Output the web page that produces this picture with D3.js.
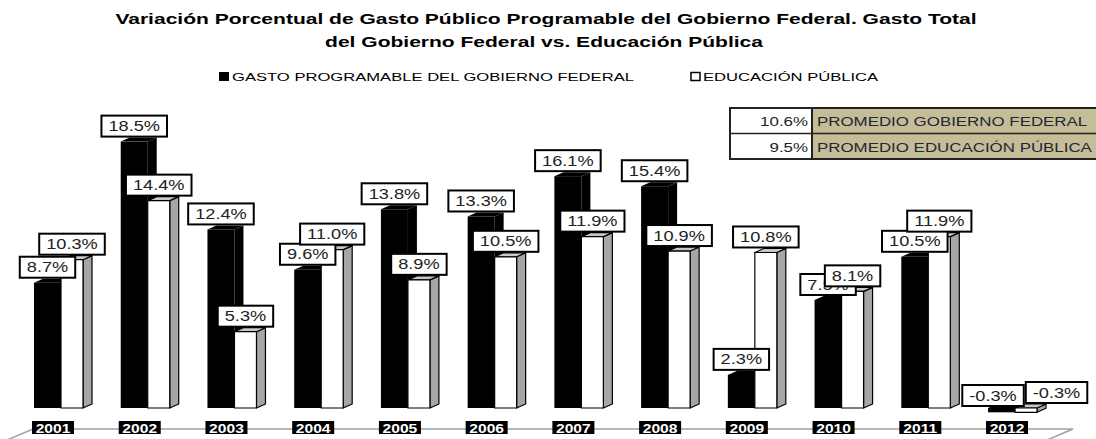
<!DOCTYPE html>
<html lang="en">
<head>
<meta charset="UTF-8">
<title>Gasto Público</title>
<style>
  body { margin: 0; background: #fff; }
  text { font-family: "Liberation Sans", Arial, sans-serif; }
</style>
</head>
<body>
<script src="https://cdn.jsdelivr.net/npm/d3@7"></script>
<script>
  const years = ["2001","2002","2003","2004","2005","2006","2007","2008","2009","2010","2011","2012"];
  const gobierno = [8.7, 18.5, 12.4, 9.6, 13.8, 13.3, 16.1, 15.4, 2.3, 7.5, 10.5, -0.3];
  const educacion = [10.3, 14.4, 5.3, 11.0, 8.9, 10.5, 11.9, 10.9, 10.8, 8.1, 11.9, -0.3];
  const seriesNames = ["GASTO PROGRAMABLE DEL GOBIERNO FEDERAL", "EDUCACIÓN PÚBLICA"];
  const promedios = [["10.6%", "PROMEDIO GOBIERNO FEDERAL"], ["9.5%", "PROMEDIO EDUCACIÓN PÚBLICA"]];
  const titleLines = ["Variación Porcentual de Gasto Público Programable del Gobierno Federal. Gasto Total",
                      "del Gobierno Federal vs. Educación Pública"];

  const width = 1096, height = 439;
  const sx = 1.3;          // horizontal stretch of the text, as in the picture
  const dx = 9, dy = -4;   // 3d depth
  const wB = 27, wW = 22;

  const svg = d3.select("body").append("svg")
    .attr("width", width).attr("height", height);

  const x = d3.scaleBand().domain(years).range([34, 34 + 12 * 86.73]);
  const y = d3.scaleLinear().domain([0, 20]).range([408, 120]);

  // stretched text helper
  function txt(g, s, px, py, opts) {
    const t = g.append("text")
      .attr("transform", `translate(${px},${py}) scale(${opts.sx || sx},1)`)
      .attr("text-anchor", opts.anchor || "middle")
      .attr("font-size", opts.size)
      .attr("font-weight", opts.bold ? "bold" : "normal")
      .attr("fill", opts.fill || "#000")
      .text(s);
    return t;
  }

  // title
  txt(svg, titleLines[0], 546, 24, {size: 14.5, bold: true, sx: 1.45});
  txt(svg, titleLines[1], 544, 47, {size: 14.5, bold: true, sx: 1.45});

  // legend
  svg.append("rect").attr("x", 219).attr("y", 72).attr("width", 10).attr("height", 9).attr("fill", "#000");
  txt(svg, seriesNames[0], 232, 81, {size: 11.5, anchor: "start", sx: 1.445});
  svg.append("rect").attr("x", 691).attr("y", 72.5).attr("width", 9).attr("height", 8)
    .attr("fill", "#fff").attr("stroke", "#000").attr("stroke-width", 1.5);
  txt(svg, seriesNames[1], 703, 81, {size: 11.5, anchor: "start", sx: 1.445});

  // floor
  svg.append("path")
    .attr("d", "M0,443 L33,429 L1073,429 L1040,443")
    .attr("fill", "none").attr("stroke", "#a0a0a0").attr("stroke-width", 1.5);

  const pts = a => a.map(p => p.join(",")).join(" ");

  const plot = svg.append("g");
  years.forEach((yr, i) => {
    const x0 = x(yr);
    // black series
    {
      const v = gobierno[i];
      const yt = Math.min(y(v), y(0)), yb = Math.max(y(v), y(0));
      const g = plot.append("g");
      g.append("polygon").attr("points", pts([[x0 + wB, yt], [x0 + wB + dx, yt + dy], [x0 + wB + dx, yb + dy], [x0 + wB, yb]])).attr("fill", "#000");
      g.append("polygon").attr("points", pts([[x0, yt], [x0 + wB, yt], [x0 + wB + dx, yt + dy], [x0 + dx, yt + dy]])).attr("fill", "#000");
      g.append("rect").attr("x", x0).attr("y", yt).attr("width", wB).attr("height", yb - yt).attr("fill", "#000");
    }
    // white series
    {
      const v = educacion[i];
      const xw = x0 + wB;
      const yt = Math.min(y(v), y(0)), yb = Math.max(y(v), y(0));
      const g = plot.append("g").attr("stroke", "#000").attr("stroke-width", 1.2).attr("stroke-linejoin", "round");
      g.append("polygon").attr("points", pts([[xw + wW, yt], [xw + wW + dx, yt + dy], [xw + wW + dx, yb + dy], [xw + wW, yb]])).attr("fill", "#a6a6a6");
      g.append("polygon").attr("points", pts([[xw, yt], [xw + wW, yt], [xw + wW + dx, yt + dy], [xw + dx, yt + dy]])).attr("fill", "#c8c8c8");
      g.append("rect").attr("x", xw).attr("y", yt).attr("width", wW).attr("height", yb - yt).attr("fill", "#fff");
    }
  });

  // data labels
  const fmt = v => v.toFixed(1) + "%";
  const labelsB = [], labelsW = [];
  years.forEach((yr, i) => {
    const x0 = x(yr);
    labelsB.push({s: fmt(gobierno[i]), cx: x0 + wB / 2, bottom: Math.min(y(gobierno[i]), y(0)) + dy - 1});
    labelsW.push({s: fmt(educacion[i]), cx: x0 + wB + wW / 2, bottom: Math.min(y(educacion[i]), y(0)) + dy - 1});
  });
  const labG = svg.append("g");
  function measure(l) {
    const g = labG.append("g");
    const t = txt(g, l.s, 0, 0, {size: 14});
    l.w = t.node().getComputedTextLength() * sx + 14;
    g.remove();
  }
  labelsB.forEach(measure); labelsW.forEach(measure);
  // spread labels that sit on the same line
  labelsB.forEach((b, i) => {
    const w = labelsW[i];
    if (Math.abs(b.bottom - w.bottom) < 6) {
      const m = (b.cx + w.cx) / 2 + 11;
      b.cx = m - 1 - b.w / 2;
      w.cx = m + 1 + w.w / 2;
      b.bottom += 3;
    }
  });
  const boxH = 21;
  labelsB.concat(labelsW).forEach(l => {
    const g = labG.append("g");
    g.append("rect").attr("x", l.cx - l.w / 2).attr("y", l.bottom - boxH).attr("width", l.w).attr("height", boxH)
      .attr("fill", "#fff").attr("stroke", "#000").attr("stroke-width", 2);
    txt(g, l.s, l.cx, l.bottom - 5.5, {size: 14, fill: "#222"});
  });

  // year labels
  years.forEach(yr => {
    const cx = x(yr) + 19;
    svg.append("rect").attr("x", cx - 21).attr("y", 421).attr("width", 42).attr("height", 13).attr("fill", "#000");
    txt(svg, yr, cx, 432.5, {size: 12.5, bold: true, fill: "#fff", sx: 1.25});
  });

  // averages table
  const tb = svg.append("g");
  const tx = 730, tdiv = 812, ty = 108, rh = 25.5;
  promedios.forEach((r, i) => {
    tb.append("rect").attr("x", tx).attr("y", ty + i * rh).attr("width", tdiv - tx).attr("height", rh).attr("fill", "#fff");
    tb.append("rect").attr("x", tdiv).attr("y", ty + i * rh).attr("width", width - tdiv + 5).attr("height", rh).attr("fill", "#c4bd97");
    txt(tb, r[0], tdiv - 4, ty + i * rh + 18, {size: 13, anchor: "end", fill: "#222"});
    txt(tb, r[1], tdiv + 5, ty + i * rh + 18, {size: 13, anchor: "start", fill: "#1f2733"});
  });
  tb.append("rect").attr("x", tx).attr("y", ty).attr("width", width - tx + 5).attr("height", rh * 2)
    .attr("fill", "none").attr("stroke", "#222").attr("stroke-width", 2);
  tb.append("line").attr("x1", tx).attr("x2", width).attr("y1", ty + rh).attr("y2", ty + rh).attr("stroke", "#222").attr("stroke-width", 1.5);
  tb.append("line").attr("x1", tdiv).attr("x2", tdiv).attr("y1", ty).attr("y2", ty + 2 * rh).attr("stroke", "#222").attr("stroke-width", 2);
</script>
</body>
</html>
